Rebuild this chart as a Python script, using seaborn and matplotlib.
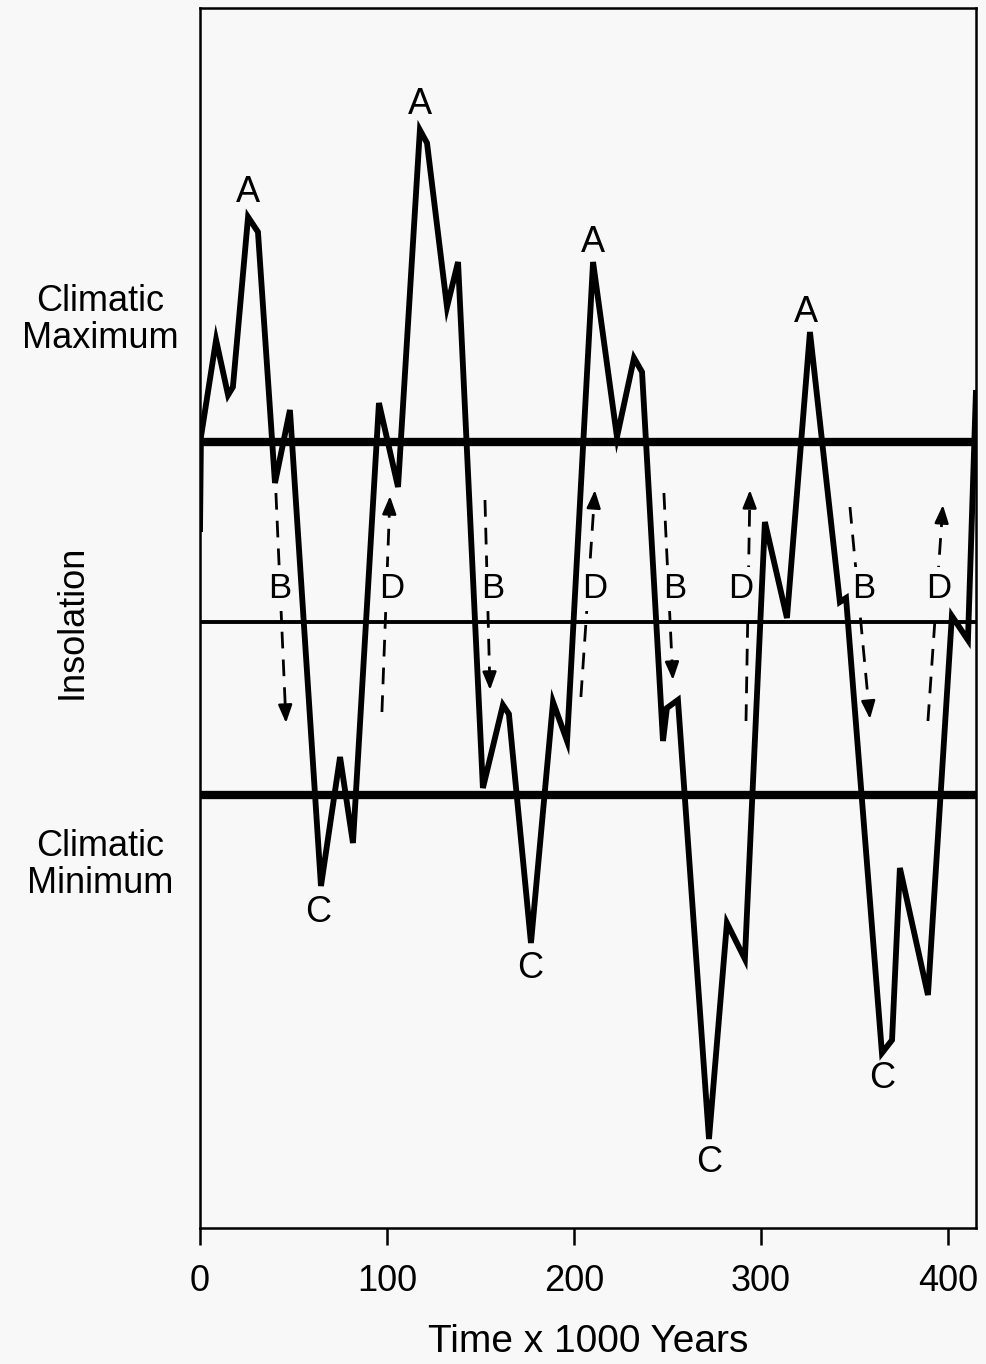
import matplotlib
matplotlib.use("Agg")
import matplotlib.pyplot as plt
import seaborn as sns
import pandas as pd

# ---------------- data ----------------
time_kyr = [0.0, 0.5, 8.6, 15.0, 17.6, 25.7, 31.0, 40.1, 48.1, 64.7, 74.9, 81.8,
            95.7, 105.9, 117.6, 121.4, 132.1, 138.0, 151.3, 162.0, 165.2, 177.0,
            188.8, 196.3, 210.2, 223.0, 232.1, 236.4, 247.6, 249.7, 255.6, 272.2,
            281.8, 291.4, 302.1, 313.9, 326.2, 342.2, 345.5, 364.7, 370.1, 374.3,
            389.3, 402.1, 410.7, 415.0]
insolation = [9.0, 18.5, 28.2, 22.7, 23.5, 40.5, 39.0, 13.9, 21.2, -26.4, -13.5, -22.1,
              21.9, 13.5, 49.2, 47.9, 31.5, 36.0, -16.6, -8.3, -9.2, -32.1,
              -8.0, -11.9, 36.0, 18.5, 26.4, 25.0, -11.9, -8.6, -7.8, -51.7,
              -30.1, -33.7, 10.0, 0.4, 29.0, 2.0, 2.4, -43.1, -41.8, -24.6,
              -37.3, 0.6, -1.8, 23.2]

max_threshold = 18.0
mean_level = 0.0
min_threshold = -17.3

peak_labels = ["A", "A", "A", "A"]
peak_x = [25.7, 117.6, 210.2, 324.1]
peak_y = [43.0, 51.7, 37.9, 30.9]

trough_labels = ["C", "C", "C", "C"]
trough_x = [63.1, 176.5, 272.2, 364.7]
trough_y = [-29.0, -34.6, -54.1, -45.6]

# transition arrows: label, start (x, y), end/tip (x, y), label x
trans_labels = ["B", "D", "B", "D", "B", "D", "B", "D"]
trans_x0 = [40.6, 97.3, 152.4, 203.7, 248.1, 292.0, 347.6, 389.3]
trans_y0 = [12.9, -9.0, 12.2, -7.5, 12.9, -9.9, 11.5, -9.9]
trans_x1 = [46.0, 101.6, 155.1, 211.2, 252.9, 294.1, 358.3, 397.3]
trans_y1 = [-10.1, 12.6, -6.8, 13.2, -5.8, 13.2, -9.7, 11.7]
trans_lx = [42.8, 102.7, 156.7, 211.2, 254.0, 289.3, 355.1, 395.2]
trans_ly = [3.3] * 8

x_ticks = [0, 100, 200, 300, 400]
x_label = "Time x 1000 Years"

# ---------------- style ----------------
bg = "#f8f8f8"
sns.set_theme(style="white")
plt.rcParams["font.family"] = ["Liberation Sans", "DejaVu Sans"]
plt.rcParams["text.color"] = "black"
plt.rcParams["axes.labelcolor"] = "black"
plt.rcParams["xtick.color"] = "black"

W, H = 986, 1364
fig = plt.figure(figsize=(W / 100, H / 100), dpi=100, facecolor=bg)
ax = fig.add_axes([200 / W, 1 - 1228 / H, (976 - 200) / W, (1228 - 8) / H])
ax.set_facecolor(bg)

df = pd.DataFrame({"t": time_kyr, "ins": insolation})
sns.lineplot(data=df, x="t", y="ins", sort=False, estimator=None, ax=ax,
             color="black", linewidth=4.2, zorder=5,
             solid_joinstyle="miter", solid_capstyle="butt")

ax.axhline(max_threshold, color="black", linewidth=6.0, zorder=3)
ax.axhline(min_threshold, color="black", linewidth=6.0, zorder=3)
ax.axhline(mean_level, color="black", linewidth=2.8, zorder=3)

for lab, x, y in zip(peak_labels, peak_x, peak_y):
    ax.text(x, y, lab, ha="center", va="center", fontsize=26, zorder=6)
for lab, x, y in zip(trough_labels, trough_x, trough_y):
    ax.text(x, y, lab, ha="center", va="center", fontsize=26, zorder=6)

for lab, x0, y0, x1, y1, lx, ly in zip(trans_labels, trans_x0, trans_y0,
                                       trans_x1, trans_y1, trans_lx, trans_ly):
    fx = x0 + (x1 - x0) * 0.93
    fy = y0 + (y1 - y0) * 0.93
    ax.plot([x0, fx], [y0, fy], color="black", linewidth=2.0,
            linestyle=(0, (6, 4)), zorder=2)
    ax.annotate("", xy=(x1, y1), xytext=(fx, fy),
                arrowprops=dict(arrowstyle="-|>,head_length=0.9,head_width=0.35",
                                color="black", lw=1.8, shrinkA=0, shrinkB=0),
                zorder=2)
    ax.text(lx, ly, lab, ha="center", va="center", fontsize=25, zorder=4,
            bbox=dict(boxstyle="square,pad=0.15", facecolor=bg, edgecolor="none"))

ax.set_xlim(0, 415)
ax.set_ylim(-60.6, 61.4)
ax.set_xticks(x_ticks)
ax.set_xticklabels([str(t) for t in x_ticks], fontsize=26)
ax.set_yticks([])
ax.set_xlabel(x_label, fontsize=28, labelpad=18)
ax.set_ylabel("")
ax.tick_params(axis="x", direction="out", length=12, width=1.8, pad=14,
               bottom=True, colors="black")
for s in ax.spines.values():
    s.set_color("black")
    s.set_linewidth(1.8)

fig.text(100 / W, 1 - 320 / H, "Climatic\nMaximum", ha="center", va="center",
         fontsize=26, linespacing=1.1)
fig.text(100 / W, 1 - 865 / H, "Climatic\nMinimum", ha="center", va="center",
         fontsize=26, linespacing=1.1)
fig.text(72 / W, 1 - 622 / H, "Insolation", ha="center", va="center",
         fontsize=26, rotation=90)

fig.savefig("out.png", dpi=100, facecolor=bg)
